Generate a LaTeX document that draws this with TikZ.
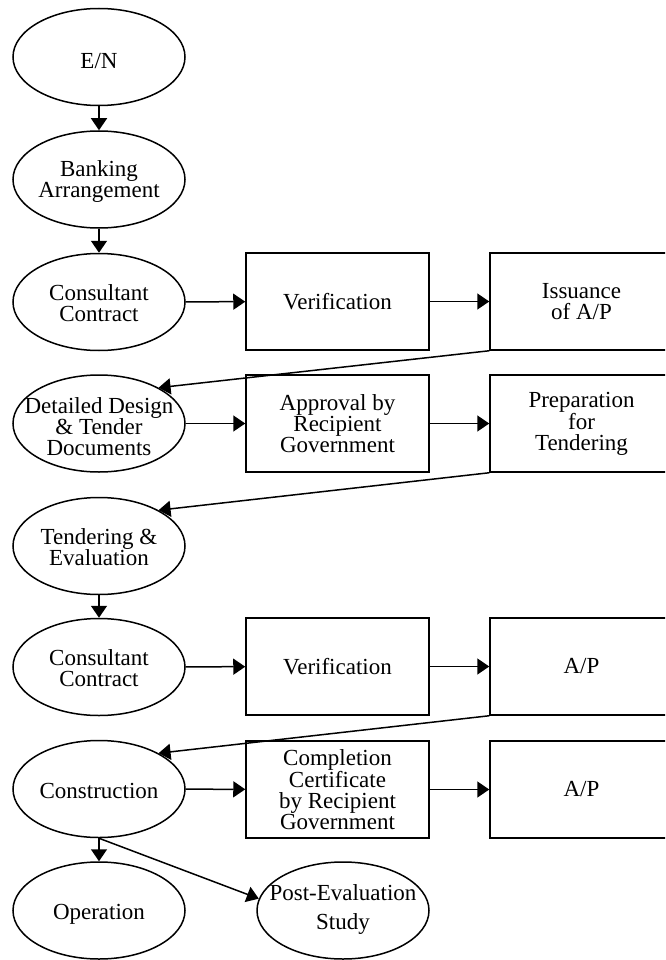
\documentclass[tikz,border=0pt]{standalone}
\usepackage{fontspec}
\newfontfamily\labfont{Liberation Serif}
\usetikzlibrary{shapes.geometric,arrows.meta}
\tikzset{
  ell/.style={ellipse, draw, line width=1.5pt, minimum width=172pt, minimum height=97pt, inner sep=0pt},
  stepbox/.style={rectangle, draw, line width=1.5pt, minimum width=183pt, minimum height=97pt, inner sep=0pt, align=center, font=\labfont\fontsize{23pt}{21pt}\selectfont},
  lbl/.style={align=center, inner sep=0pt, font=\labfont\fontsize{23pt}{21pt}\selectfont},
  arr/.style={-{Triangle[length=12pt,width=16pt]}, line width=1.5pt},
}
\begin{document}
\begin{tikzpicture}[x=1pt,y=-1pt]
\useasboundingbox (0,0) rectangle (665,960);
\clip (0,0) rectangle (665,960);
% left column ellipses
\node[ell] (en) at (99,57) {};
\node[lbl] (en-t) at (99,61) {E/N};
\node[ell] (bank) at (99,179.5) {};
\node[lbl] (bank-t) at (99,182) {Banking\\Arrangement};
\node[ell] (cc1) at (99,302) {};
\node[lbl] (cc1-t) at (99,303) {Consultant\\Contract};
\node[ell] (dd) at (99,423.5) {};
\node[lbl] (dd-t) at (99,427) {Detailed Design\\\& Tender\\Documents};
\node[ell] (tend) at (99,546) {};
\node[lbl] (tend-t) at (99,547) {Tendering \&\\Evaluation};
\node[ell] (cc2) at (99,667) {};
\node[lbl] (cc2-t) at (99,668) {Consultant\\Contract};
\node[ell] (cons) at (99,789) {};
\node[lbl] (cons-t) at (99,791) {Construction};
\node[ell] (oper) at (99,910.5) {};
\node[lbl] (oper-t) at (99,914) {Operation};
\node[ell] (post) at (343,910.5) {};
\node[lbl] (post-t) at (343,909) {Post-Evaluation\\[8pt]Study};
% boxes
\node[stepbox] (ver1) at (337.5,301.5) {Verification};
\node[stepbox] (iss) at (581.5,301.5) {Issuance\\of A/P};
\node[stepbox] (appr) at (337.5,423.5) {Approval by\\Recipient\\Government};
\node[stepbox] (prep) at (581.5,423.5) {Preparation\\for\\Tendering};
\node[stepbox] (ver2) at (337.5,666.5) {Verification};
\node[stepbox] (ap1) at (581.5,666.5) {A/P};
\node[stepbox] (comp) at (337.5,789.5) {Completion\\Certificate\\by Recipient\\Government};
\node[stepbox] (ap2) at (581.5,789.5) {A/P};
% connectors
\draw[arr] (en) -- (bank);
\draw[arr] (bank) -- (cc1);
\draw[arr] (cc1) -- (ver1);
\draw[arr] (ver1) -- (iss);
\draw[arr] (iss.south west) -- (dd.31);
\draw[arr] (dd) -- (appr);
\draw[arr] (appr) -- (prep);
\draw[arr] (prep.south west) -- (tend.31);
\draw[arr] (tend) -- (cc2);
\draw[arr] (cc2) -- (ver2);
\draw[arr] (ver2) -- (ap1);
\draw[arr] (ap1.south west) -- (cons.31);
\draw[arr] (cons) -- (comp);
\draw[arr] (comp) -- (ap2);
\draw[arr] (cons.south) -- (oper);
\draw[arr] (cons.south) -- (post.172);
\end{tikzpicture}
\end{document}
